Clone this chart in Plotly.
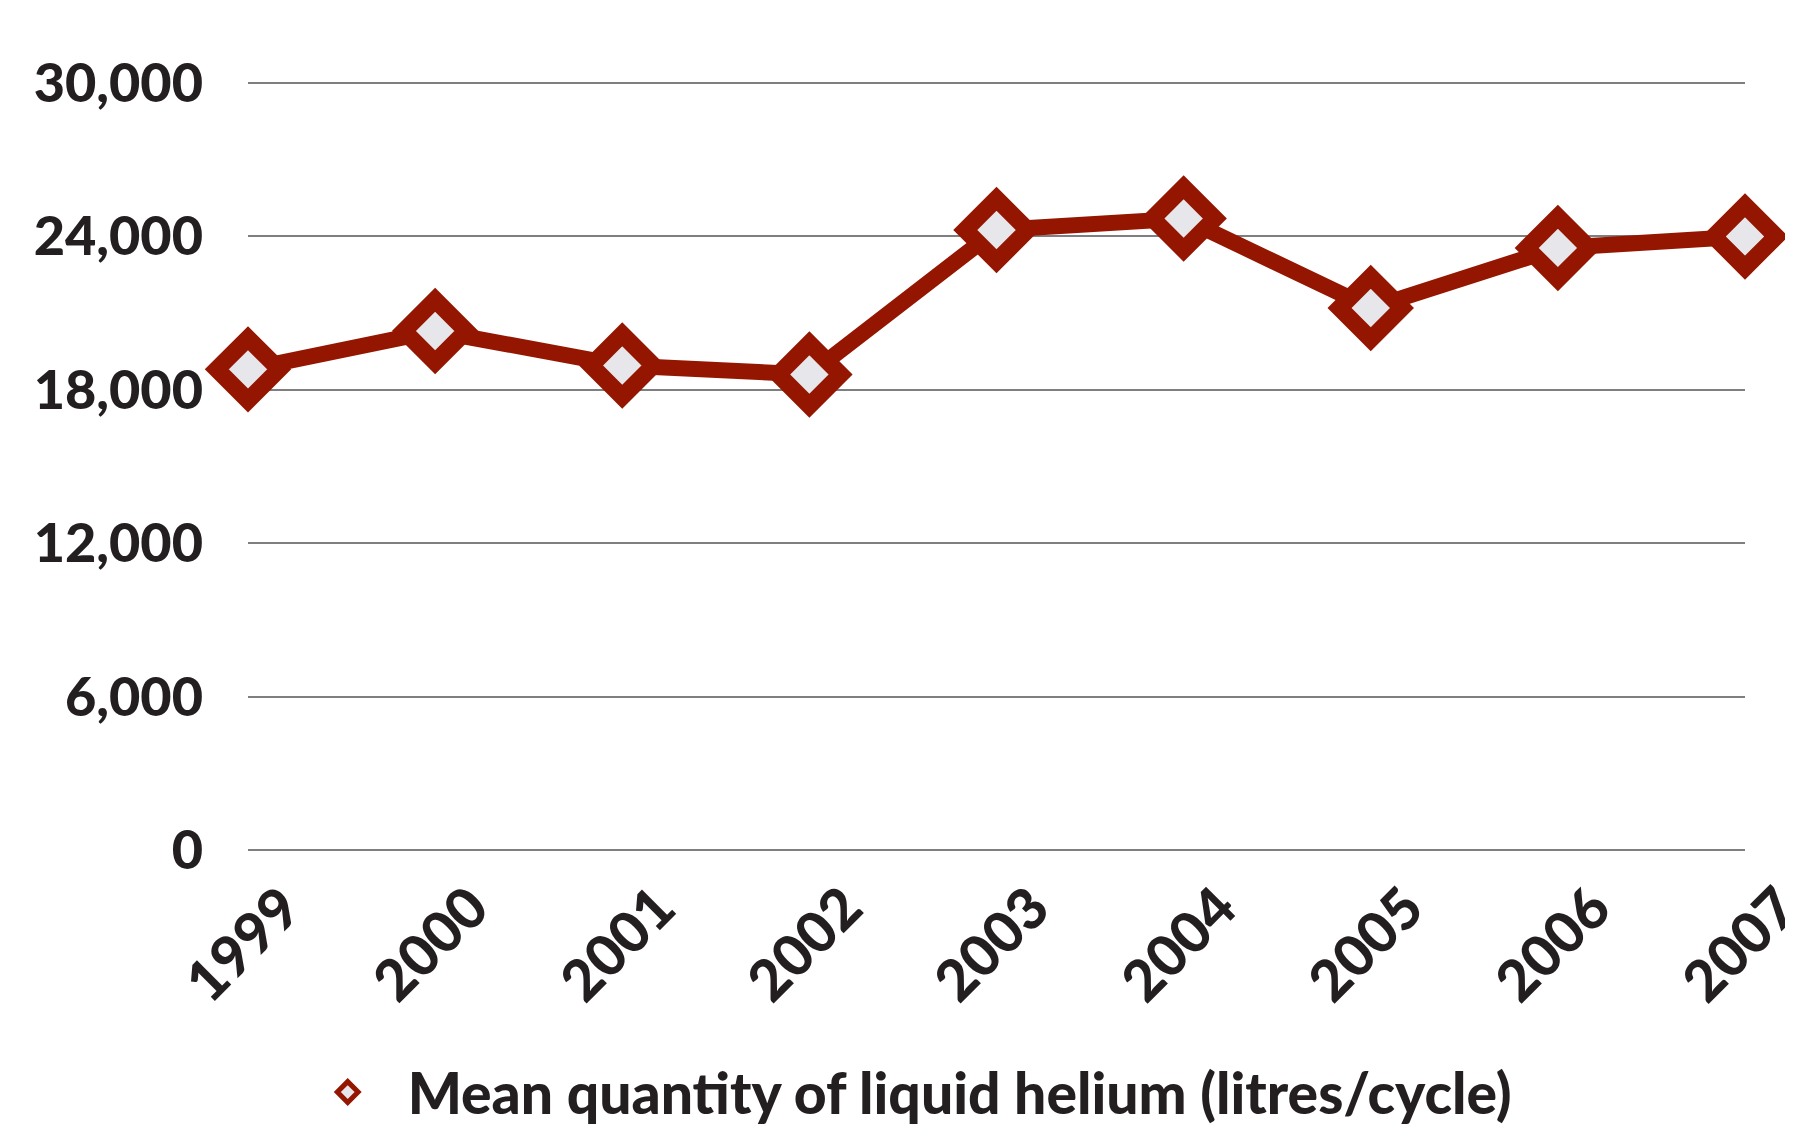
import plotly.graph_objects as go

years = ["1999", "2000", "2001", "2002", "2003", "2004", "2005", "2006", "2007"]
helium = [18800, 20300, 18950, 18600, 24250, 24700, 21200, 23550, 24000]
y_ticks = [0, 6000, 12000, 18000, 24000, 30000]
y_tick_text = ["0", "6,000", "12,000", "18,000", "24,000", "30,000"]
series_name = "Mean quantity of liquid helium (litres/cycle)"

DARK_RED = "#951600"
TEXT = "#231f20"
FONT = "Lato"
W = 900

fig = go.Figure()
fig.add_trace(go.Scatter(
    x=years, y=helium, name=series_name, showlegend=False,
    mode="lines+markers",
    line=dict(color=DARK_RED, width=16),
    marker=dict(symbol="diamond", size=48, color="#e6e6eb",
                line=dict(color=DARK_RED, width=17)),
    cliponaxis=False,
))
# legend entry (same styling, markers only)
fig.add_trace(go.Scatter(
    x=[None], y=[None], name=series_name, showlegend=True,
    mode="markers",
    marker=dict(symbol="diamond", size=48, color="#e6e6eb",
                line=dict(color=DARK_RED, width=17)),
))

for i, yr in enumerate(years):
    fig.add_annotation(x=i, y=0, xref="x", yref="paper", text=yr,
                       showarrow=False, textangle=-45,
                       xanchor="right", yanchor="top", xshift=67, yshift=-19,
                       font=dict(family=FONT, size=57, color=TEXT, weight=W))

fig.update_layout(
    width=1793, height=1125,
    margin=dict(l=240, r=56, t=74, b=283),
    paper_bgcolor="white", plot_bgcolor="white",
    font=dict(family=FONT, color=TEXT, size=54),
    showlegend=True,
    legend=dict(orientation="h", xref="container", yref="container",
                x=0.156, xanchor="left", y=0.036, yanchor="middle",
                font=dict(family=FONT, size=57, color=TEXT, weight=W),
                itemsizing="trace", itemwidth=110),
    xaxis=dict(type="category", range=[0, 8], showgrid=False, zeroline=False,
               showline=False, ticks="", showticklabels=False, automargin=False),
    yaxis=dict(range=[0, 30040], tickvals=y_ticks, ticktext=y_tick_text,
               showgrid=True, gridcolor="#7f7f7f", gridwidth=2,
               zeroline=True, zerolinecolor="#7f7f7f", zerolinewidth=2,
               showline=False, ticks="", automargin=False,
               tickfont=dict(family=FONT, size=54, color=TEXT, weight=W),
               ticklabelstandoff=44),
)

fig.write_html("out.html")
